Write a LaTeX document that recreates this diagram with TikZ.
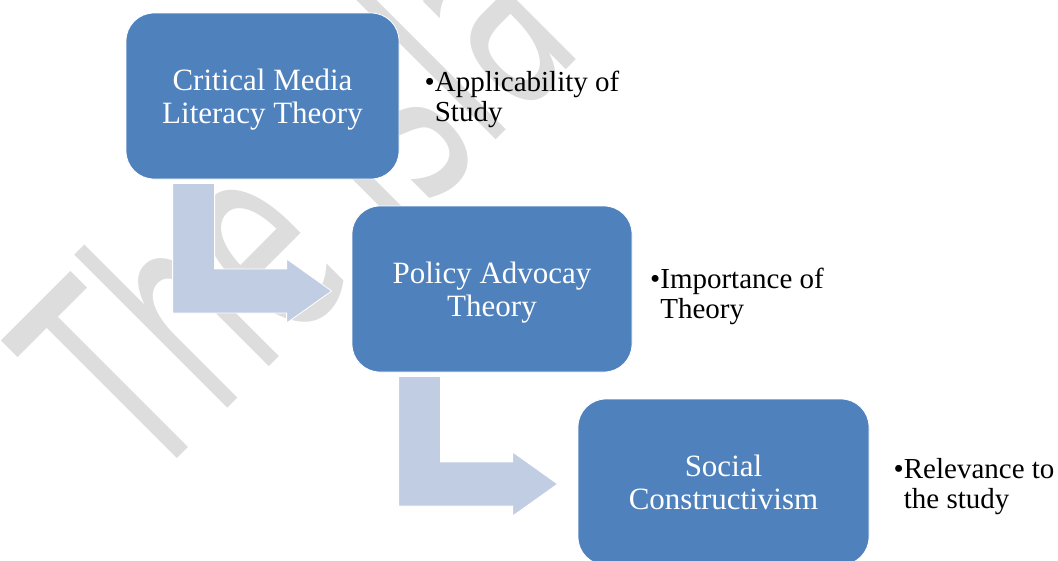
\documentclass[tikz,border=0pt]{standalone}
\usepackage{fontspec}
\setmainfont{Liberation Serif}
\newfontfamily\markfont{DejaVu Sans}
\usepackage{tikz}
\usetikzlibrary{calc}
\definecolor{boxblue}{RGB}{79,129,189}
\definecolor{arrowblue}{RGB}{193,205,227}
\definecolor{markgray}{RGB}{221,221,221}

\begin{document}
\begin{tikzpicture}[x=1pt,y=-1pt,
  theory/.style={fill=boxblue,draw=white,line width=0.8pt,rounded corners=28pt,
    minimum height=166pt,inner sep=0pt,align=center,text=white,text depth=0pt,
    font=\fontsize{31}{33}\selectfont},
  note/.style={anchor=base west,inner sep=0pt,font=\fontsize{29}{30}\selectfont}]
  \useasboundingbox (0,0) rectangle (1058,560);
  \clip (0,0) rectangle (1058,560);
  % faint lettering behind the chart
  \begin{scope}[shift={(148,488)}]
    \node [rotate=45,xscale=0.56,anchor=base west,inner sep=0pt,text=markgray]
      (mark) at (0,0) {\markfont\fontsize{285}{285}\selectfont The Isla};
  \end{scope}
  % the three theories
  \node [theory][minimum width=273pt] (cml) at (262.5,96) {Critical Media\\Literacy Theory};
  \node [theory][minimum width=280pt] (pat) at (492,289) {Policy Advocay\\Theory};
  \node [theory][minimum width=291pt] (sc) at (723.5,482) {Social\\Constructivism};
  % notes beside each box
  \node [note] (app) at (424.5,91) {•\begin{tabular}[t]{@{}l@{}}Applicability of\\Study\end{tabular}};
  \node [note] (imp) at (650,288) {•\begin{tabular}[t]{@{}l@{}}Importance of\\Theory\end{tabular}};
  \node [note] (rel) at (893.5,478) {•\begin{tabular}[t]{@{}l@{}}Relevance to\\the study\end{tabular}};
  % bent arrows from one box down to the next
  \foreach \a/\b in {cml/pat,pat/sc}{
    \coordinate (s) at ($(\a.south west)+(47,4)$);
    \coordinate (t) at ($(\b.west)+(-20,2)$);
    \coordinate (b) at ($(t)+(-45,22)$);
    \fill [arrowblue][draw=white,line width=0.8pt] (s) -- ++(42,0) |- ($(t)+(-45,-22)$)
      -- ($(t)+(-45,-32)$) -- (t) -- ($(t)+(-45,32)$) -- (b) -- (s |- b) -- cycle;
  }
\end{tikzpicture}
\end{document}
